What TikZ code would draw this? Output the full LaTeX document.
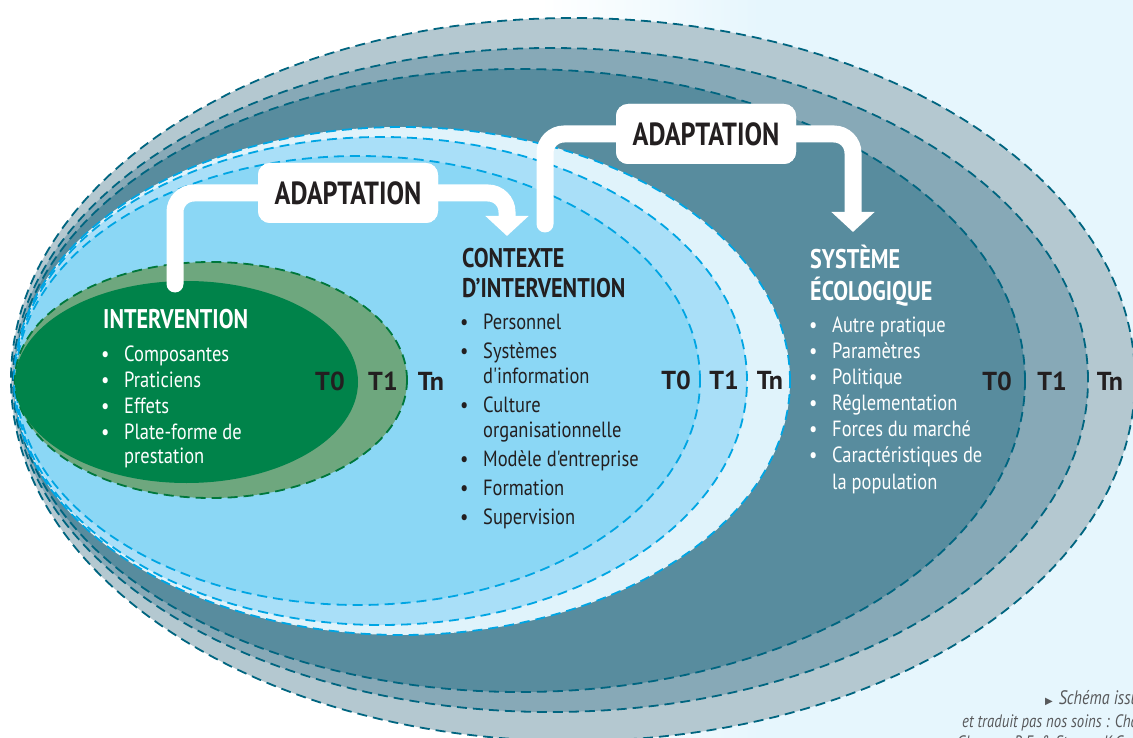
\documentclass[tikz,border=0pt]{standalone}
\usepackage{fontspec}
\setmainfont{PT Sans}[FakeStretch=0.82]
\newfontfamily\itemfont{PT Sans}[FakeStretch=0.84]
\newfontfamily\tlabfont{PT Sans}
\newfontfamily\symfont{DejaVu Sans}
\usetikzlibrary{arrows.meta}
\definecolor{bgblue}{HTML}{E6F6FD}
\definecolor{sysTn}{HTML}{B4C8D0}
\definecolor{sysTone}{HTML}{87A9B7}
\definecolor{sysTzero}{HTML}{588C9E}
\definecolor{tealdash}{HTML}{006580}
\definecolor{ctxTn}{HTML}{E0F3FB}
\definecolor{ctxTone}{HTML}{A9DFF8}
\definecolor{ctxTzero}{HTML}{8BD7F5}
\definecolor{bluedash}{HTML}{00A5E3}
\definecolor{grnTone}{HTML}{6EA77E}
\definecolor{grnTzero}{HTML}{00834A}
\definecolor{grndash}{HTML}{00783C}
\definecolor{tdark}{HTML}{231F20}
\definecolor{footgrey}{HTML}{58595B}
\newcommand\mybullet{\makebox[23pt][l]{•}}
\newcommand\mycont{\hspace*{23pt}}
\begin{document}
\begin{tikzpicture}[x=1pt,y=-1pt,
  greyring/.style={fill=#1,draw=tealdash,line width=1.8pt,dash pattern=on 10pt off 6pt},
  bluering/.style={fill=#1,draw=bluedash,line width=1.8pt,dash pattern=on 10pt off 6pt},
  greenring/.style={fill=#1,draw=grndash,line width=1.8pt,dash pattern=on 10pt off 6pt},
  titletext/.style={font=\bfseries\fontsize{27}{30}\selectfont,anchor=base west,inner sep=0pt,align=left},
  itemtext/.style={anchor=base west,inner sep=0pt,align=left},
  tlab/.style={font=\tlabfont\bfseries\fontsize{26}{30}\selectfont,text=tdark,anchor=base,inner sep=0pt},
  adaptbox/.style={fill=white,rounded corners=12pt,minimum width=180pt,minimum height=60pt,
    font=\bfseries\fontsize{32}{32}\selectfont,text=tdark,inner sep=0pt},
  adaptarrow/.style={draw=white,line width=17pt,line cap=round,rounded corners=19pt,
    -{Triangle[width=42pt,length=20pt]}},
  foottext/.style={font=\itshape\fontsize{18}{19}\selectfont,text=footgrey,anchor=base west,inner sep=0pt}
]
\useasboundingbox (0,0) rectangle (1133,738);
% background
\fill[white] (0,0) rectangle (1133,738);
\shade[left color=white,right color=bgblue] (540,0) rectangle (760,738);
\fill[bgblue] (760,0) rectangle (1133,738);
% ecological system rings
\path[greyring=sysTn] (573,379.5) ellipse [x radius=562pt,y radius=361.5pt];
\path[greyring=sysTone] (550.5,380) ellipse [x radius=537.5pt,y radius=332pt];
\path[greyring=sysTzero] (520,380.5) ellipse [x radius=505pt,y radius=311.5pt];
% context rings
\path[bluering=ctxTn] (402,381) ellipse [x radius=388pt,y radius=254pt];
\path[bluering=ctxTone] (381,381) ellipse [x radius=366pt,y radius=244pt];
\path[bluering=ctxTzero] (358,380.5) ellipse [x radius=342pt,y radius=224.5pt];
% intervention rings
\path[greenring=grnTone] (211,380) ellipse [x radius=196pt,y radius=118pt];
\fill[grnTzero] (186.5,382) ellipse [x radius=171.5pt,y radius=101pt];
% time labels
\node[tlab] (g0) at (330,390) {T0};
\node[tlab] (g1) at (383,390) {T1};
\node[tlab] (gn) at (431,390) {Tn};
\node[tlab] (c0) at (676,389) {T0};
\node[tlab] (c1) at (724,389) {T1};
\node[tlab] (cn) at (770,389) {Tn};
\node[tlab] (s0) at (997,390) {T0};
\node[tlab] (s1) at (1052,390) {T1};
\node[tlab] (sn) at (1110,390) {Tn};
% intervention text (base anchor = last line baseline)
\node[titletext,text=white] (intT) at (103,328) {INTERVENTION};
\node[itemtext,text=white,font=\itemfont\fontsize{22}{26}\selectfont] (intL) at (101,463) {\mybullet Composantes\\
  \mybullet Praticiens\\ \mybullet Effets\\ \mybullet Plate-forme de\\[-2pt] \mycont prestation};
% context text
\node[titletext,text=tdark] (ctxT) at (462,298) {CONTEXTE\\D’INTERVENTION};
\node[itemtext,text=tdark,font=\itemfont\fontsize{22}{25}\selectfont] (ctxL) at (460,524) {\mybullet Personnel\\[4pt]
  \mybullet Systèmes\\ \mycont d'information\\[4pt] \mybullet Culture\\ \mycont organisationnelle\\[4pt]
  \mybullet Modèle d'entreprise\\[4pt] \mybullet Formation\\[4pt] \mybullet Supervision};
% ecological text
\node[titletext,text=white,font=\bfseries\fontsize{27}{32}\selectfont] (sysT) at (810,300) {SYSTÈME\\ÉCOLOGIQUE};
\node[itemtext,text=white,font=\itemfont\fontsize{22}{26.1}\selectfont] (sysL) at (809,489) {\mybullet Autre pratique\\
  \mybullet Paramètres\\ \mybullet Politique\\ \mybullet Réglementation\\ \mybullet Forces du marché\\
  \mybullet Caractéristiques de\\ \mycont la population};
% adaptation arrows
\coordinate (a1s) at (175,284);
\coordinate (a1e) at (507,236);
\coordinate (a2s) at (545,224);
\coordinate (a2e) at (853,232);
\node[adaptbox] (ad1) at (348,193) {};
\node[adaptbox] (ad2) at (706,134) {};
\draw[adaptarrow] (a1s) |- (ad1.center) -| (a1e);
\draw[adaptarrow] (a2s) |- (ad2.center) -| (a2e);
\node[adaptbox] at (ad1) {ADAPTATION};
\node[adaptbox] at (ad2) {ADAPTATION};
% footer
\node[foottext] (f1) at (1045,704) {{\symfont\fontsize{10}{10}\selectfont ▶}\hspace{6pt}{\fontsize{19.5}{20}\selectfont Schéma issu}};
\node[foottext] (f2) at (962,727) {et traduit pas nos soins : Chambers,};
\node[foottext] (f3) at (957,748) {Glasgow, R.E. \& Stange, K.C.};
\end{tikzpicture}
\end{document}
